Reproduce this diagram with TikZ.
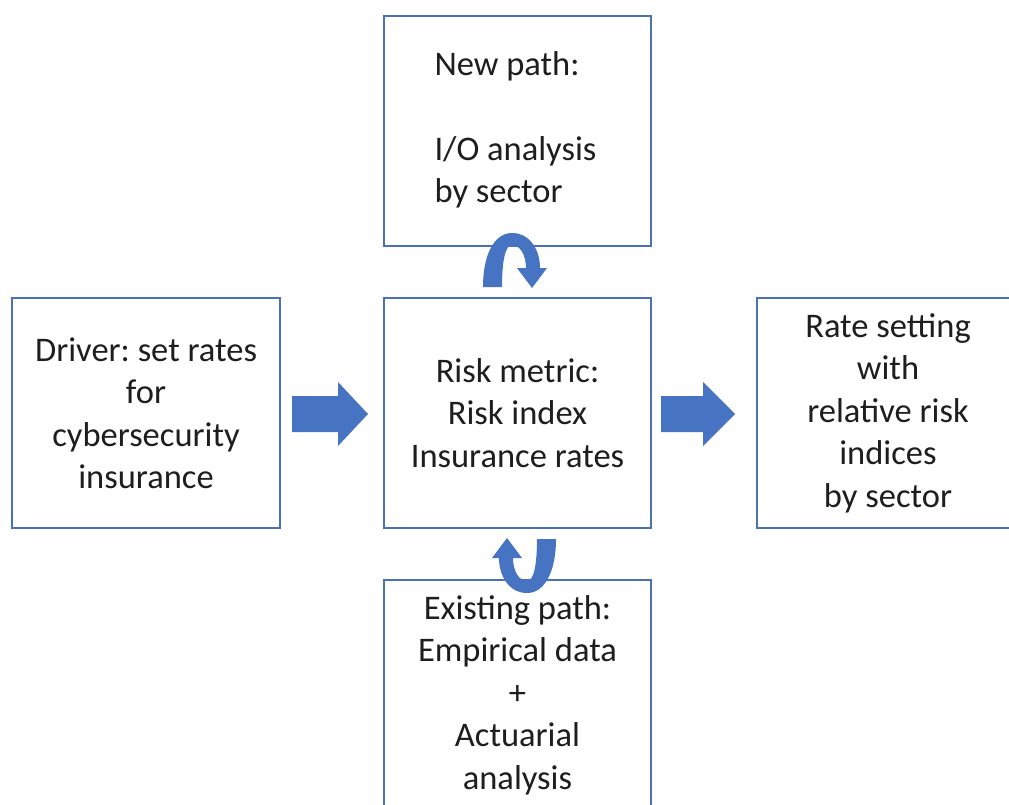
\documentclass[tikz,border=0pt]{standalone}
\usepackage{fontspec}
\setmainfont{Carlito}
\frenchspacing
\definecolor{boxblue}{HTML}{4A70B8}
\definecolor{fillblue}{HTML}{4673C2}
\definecolor{txt}{HTML}{1E1E1E}
\tikzset{
  box/.style={draw=boxblue, line width=2pt, fill=white, minimum height=230pt, inner sep=0pt,
    align=center, text=txt, font=\fontsize{34.5}{42.5}\selectfont},
  blockarrow/.style={fill=fillblue},
  curvearrow/.style={fill=fillblue},
}
\begin{document}
\begin{tikzpicture}[x=1pt,y=-1pt]
\useasboundingbox (0,0) rectangle (1009,804);
\clip (0,0) rectangle (1009,804);
\fill[white] (0,0) rectangle (1009,804);

\node[box, minimum width=267pt] (T) at (517.5,131) {};
\node[text=txt, font=\fontsize{34.5}{42.5}\selectfont, align=left, inner sep=0pt] (Tt) at (515.5,130)
  {New path:\\ \strut\\ I/O analysis\\ by sector};

\node[box, minimum width=267pt] (M) at (517.5,413) {Risk metric:\\ Risk index\\ Insurance rates};
\node[box, minimum width=268pt] (L) at (146,413) {Driver: set rates\\ for\\ cybersecurity\\ insurance};
\node[box, minimum width=262pt] (R) at (888,413) {Rate setting\\ with\\ relative risk\\ indices\\ by sector};
\node[box, minimum width=267pt] (B) at (517.5,695) {Existing path:\\ Empirical data\\ +\\ Actuarial\\ analysis};

% block arrows
\fill[blockarrow] (292,396) -- (338,396) -- (338,382) -- (368,414) -- (338,446) -- (338,432) -- (292,432) -- cycle;
\fill[blockarrow] (661,396) -- (703,396) -- (703,382) -- (735,414) -- (703,446) -- (703,432) -- (661,432) -- cycle;

% curved arrows
\fill[curvearrow] (483,287) .. controls (483,255) and (494,233) .. (512,233)
  .. controls (530,233) and (540,250) .. (540,268) -- (547,268) -- (532,288) -- (517,268) -- (526,268)
  .. controls (526,255) and (520,245) .. (512,245) .. controls (505,245) and (502,262) .. (502,287) -- cycle;
\begin{scope}[rotate around={180:(519.5,413)}]
\fill[curvearrow] (483,287) .. controls (483,255) and (494,233) .. (512,233)
  .. controls (530,233) and (540,250) .. (540,268) -- (547,268) -- (532,288) -- (517,268) -- (526,268)
  .. controls (526,255) and (520,245) .. (512,245) .. controls (505,245) and (502,262) .. (502,287) -- cycle;
\end{scope}
\end{tikzpicture}
\end{document}
